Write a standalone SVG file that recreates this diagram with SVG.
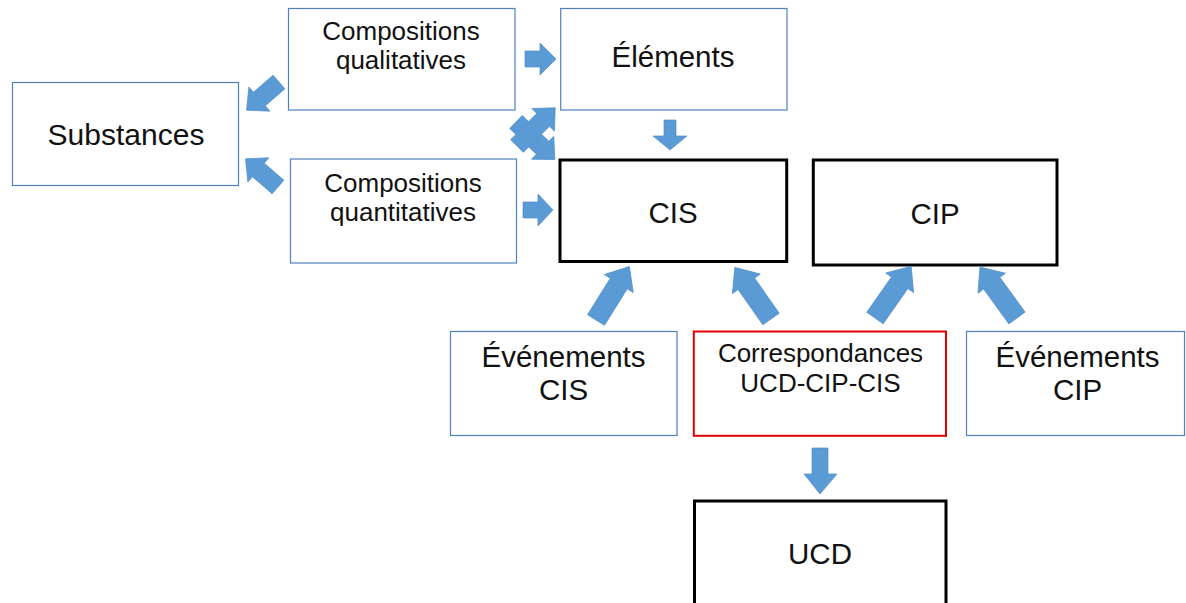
<svg xmlns="http://www.w3.org/2000/svg" width="1186" height="603" viewBox="0 0 1186 603">
<style>
  .box{fill:#ffffff;stroke:#4f81bd;stroke-width:1.2}
  .key{fill:#ffffff;stroke:#000000;stroke-width:3}
  .red{fill:#ffffff;stroke:#e00000;stroke-width:2}
  .arr{fill:#5b9bd5;stroke:#4e8cc8;stroke-width:0.7}
  text{font-family:"Liberation Sans",Arial,sans-serif;text-anchor:middle;fill:#111111}
  .big{font-size:29.5px}
  .small{font-size:26px}
</style>
<rect x="0" y="0" width="1186" height="603" fill="#ffffff"/>

<g id="substances">
  <rect class="box" x="12.5" y="82.5" width="226" height="103"/>
  <text class="big" x="126" y="145" style="font-size:30px">Substances</text>
</g>
<g id="compositions-qualitatives">
  <rect class="box" x="288.5" y="8.5" width="226.5" height="101.5"/>
  <text class="small" x="401" y="40">Compositions</text>
  <text class="small" x="401" y="69">qualitatives</text>
</g>
<g id="elements">
  <rect class="box" x="560.7" y="8.5" width="226.3" height="101.5"/>
  <text class="big" x="673" y="67">Éléments</text>
</g>
<g id="compositions-quantitatives">
  <rect class="box" x="290.5" y="159" width="226" height="104"/>
  <text class="small" x="403" y="192">Compositions</text>
  <text class="small" x="403" y="221">quantitatives</text>
</g>
<g id="cis">
  <rect class="key" x="560" y="160" width="226.7" height="101.5"/>
  <text class="big" x="673" y="222.5">CIS</text>
</g>
<g id="cip">
  <rect class="key" x="813.3" y="160" width="243.7" height="105"/>
  <text class="big" x="935" y="223.5">CIP</text>
</g>
<g id="evenements-cis">
  <rect class="box" x="450.5" y="331.5" width="226.5" height="104"/>
  <text class="big" x="563.5" y="367">Événements</text>
  <text class="big" x="563.5" y="400">CIS</text>
</g>
<g id="correspondances">
  <rect class="red" x="693.8" y="331.5" width="252.2" height="104.3"/>
  <text class="small" x="820.5" y="362">Correspondances</text>
  <text class="small" x="820.5" y="392">UCD-CIP-CIS</text>
</g>
<g id="evenements-cip">
  <rect class="box" x="966.5" y="331.5" width="218" height="104"/>
  <text class="big" x="1077.5" y="367">Événements</text>
  <text class="big" x="1077.5" y="400">CIP</text>
</g>
<g id="ucd">
  <rect class="key" x="694.5" y="501" width="251.5" height="130"/>
  <text class="big" x="820" y="563.5">UCD</text>
</g>

<g id="connectors">
  <!-- Compositions qualitatives -> Elements -->
  <polygon class="arr" points="525,51 540,51 540,43 556,59 540,75 540,67 525,67"/>
  <!-- Compositions quantitatives -> CIS -->
  <polygon class="arr" points="523,202 538,202 538,194 553,210 538,226 538,218 523,218"/>
  <!-- Elements -> CIS -->
  <polygon class="arr" points="664,120 676,120 676,136 687,136 670,150 653,136 664,136"/>
  <!-- Correspondances -> UCD -->
  <polygon class="arr" points="812,448 828,448 828,474 837,474 820,494 804,474 812,474"/>
  <!-- Compositions qualitatives -> Substances -->
  <polygon class="arr" transform="translate(279 82) rotate(139)" points="0,-9 26,-9 26,-16 43,0 26,16 26,9 0,9"/>
  <!-- Compositions quantitatives -> Substances -->
  <polygon class="arr" transform="translate(278 187) rotate(-139)" points="0,-9 26,-9 26,-16 43,0 26,16 26,9 0,9"/>
  <!-- Compositions qualitatives -> CIS -->
  <polygon class="arr" transform="translate(516 122) rotate(44)" points="0,-9 37,-9 37,-16 54,0 37,16 37,9 0,9"/>
  <!-- Compositions quantitatives -> Elements -->
  <polygon class="arr" transform="translate(517 146) rotate(-45)" points="0,-9 37,-9 37,-16 54,0 37,16 37,9 0,9"/>
  <!-- Evenements CIS -> CIS -->
  <polygon class="arr" transform="translate(596 320) rotate(-58)" points="0,-10 43,-10 43,-17 63,0 43,17 43,10 0,10"/>
  <!-- Correspondances -> CIS -->
  <polygon class="arr" transform="translate(771 319) rotate(-125)" points="0,-10 43,-10 43,-17 63,0 43,17 43,10 0,10"/>
  <!-- Correspondances -> CIP -->
  <polygon class="arr" transform="translate(875 318) rotate(-55)" points="0,-10 43,-10 43,-17 63,0 43,17 43,10 0,10"/>
  <!-- Evenements CIP -> CIP -->
  <polygon class="arr" transform="translate(1017 318) rotate(-126)" points="0,-10 43,-10 43,-17 63,0 43,17 43,10 0,10"/>
</g>
</svg>
